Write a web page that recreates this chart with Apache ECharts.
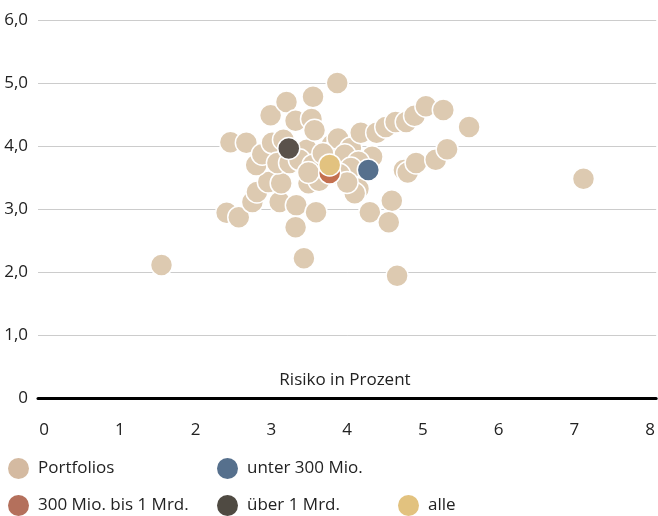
<!DOCTYPE html>
<html>
<head>
<meta charset="utf-8">
<script src="https://cdn.jsdelivr.net/npm/echarts@6/dist/echarts.min.js"></script>
<style>html,body{margin:0;padding:0;background:#fff}#c{width:658px;height:516px}</style>
</head>
<body>
<div id="c"></div>
<script>
var seriesNames = ['Portfolios', 'unter 300 Mio.', '300 Mio. bis 1 Mrd.', 'über 1 Mrd.', 'alle'];
var xTicks = [0, 1, 2, 3, 4, 5, 6, 7, 8];
var yTicks = [0, 1, 2, 3, 4, 5, 6];
var axisTitle = 'Risiko in Prozent';

var portfolios = [
  [1.55,2.11],[2.41,2.94],[2.57,2.87],[2.46,4.06],[2.67,4.05],[2.75,3.11],[2.81,3.27],
  [2.96,3.43],[2.80,3.70],[2.88,3.87],[2.99,4.49],[3.01,4.05],[3.11,3.11],[3.13,3.41],
  [3.08,3.73],[3.20,4.70],[3.32,4.40],[3.16,4.10],[3.24,3.73],[3.33,3.06],[3.32,2.71],
  [3.43,2.22],[3.59,2.95],[3.49,3.41],[3.63,3.45],[3.47,3.94],[3.37,3.78],[3.55,4.78],
  [3.53,4.43],[3.57,4.25],[3.55,3.70],[3.87,5.00],[3.80,4.02],[3.86,3.97],[3.88,4.12],
  [4.05,3.97],[3.97,3.86],[4.18,4.21],[4.39,4.21],[4.51,4.30],[4.64,4.38],[4.78,4.38],
  [4.89,4.48],[5.04,4.63],[5.27,4.57],[5.61,4.30],[4.33,3.83],[4.15,3.75],[4.05,3.65],
  [4.15,3.32],[4.10,3.25],[4.59,3.13],[4.30,2.95],[4.55,2.79],[4.66,1.94],[4.75,3.62],
  [4.80,3.58],[4.91,3.73],[5.17,3.78],[5.32,3.95],[7.12,3.48],[3.68,3.88],[3.49,3.58],
  [3.90,3.55],[4.00,3.42]
];
var unter300 = [[4.28,3.62]];
var mio300bis1Mrd = [[3.77,3.57]];
var ueber1Mrd = [[3.23,3.96]];
var alle = [[3.77,3.70]];

var colors = ['#ddcab1', '#56708d', '#c4704f', '#5a524b', '#e2c27f'];
var legendColors = ['#d4baa1', '#56708d', '#b4705c', '#4f4a42', '#e2c27f'];
var dataSets = [portfolios, unter300, mio300bis1Mrd, ueber1Mrd, alle];
var FONT = '"Open Sans", sans-serif';

var chart = echarts.init(document.getElementById('c'), null, {renderer: 'canvas'});

var series = seriesNames.map(function (n, i) {
  return {
    name: n,
    type: 'scatter',
    data: dataSets[i],
    symbol: 'circle',
    symbolSize: 22,
    itemStyle: {color: colors[i], borderColor: '#fff', borderWidth: 1.5, opacity: 1},
    z: 2 + i,
    emphasis: {disabled: true}
  };
});

function legendAt(i, left, top) {
  return {
    data: [{name: seriesNames[i], itemStyle: {color: legendColors[i], borderWidth: 0}}],
    left: left, top: top,
    icon: 'circle', itemWidth: 21, itemHeight: 21,
    padding: 0,
    selectedMode: false,
    textStyle: {fontFamily: FONT, fontSize: 17, color: '#222', padding: [0, 0, 0, 4]}
  };
}

chart.setOption({
  animation: false,
  backgroundColor: '#fff',
  grid: {left: 38, right: 0, top: 20, bottom: 118, containLabel: false},
  xAxis: {
    type: 'value', min: -0.08, max: 8.08,
    splitLine: {show: false},
    axisLine: {show: true, onZero: false, lineStyle: {color: '#000', width: 3}},
    axisTick: {show: false},
    axisLabel: {customValues: xTicks, margin: 24, fontFamily: FONT, fontSize: 17, color: '#222',
      formatter: function (v) { return String(v); }}
  },
  yAxis: {
    type: 'value', min: 0, max: 6, interval: 1,
    axisLine: {show: false},
    axisTick: {show: false},
    splitLine: {show: true, lineStyle: {color: '#cccccc', width: 1}},
    axisLabel: {margin: 10, fontFamily: FONT, fontSize: 17, color: '#222',
      formatter: function (v) { return v === 0 ? '0' : v.toFixed(1).replace('.', ','); }}
  },
  legend: [
    legendAt(0, 8, 458),
    legendAt(1, 217, 458),
    legendAt(2, 8, 495),
    legendAt(3, 217, 495),
    legendAt(4, 398, 495)
  ],
  graphic: [{
    type: 'text', x: 345, y: 372,
    style: {text: axisTitle, fontFamily: FONT, fontSize: 17, fill: '#222', textAlign: 'center'}
  }],
  series: series
});
</script>
</body>
</html>
